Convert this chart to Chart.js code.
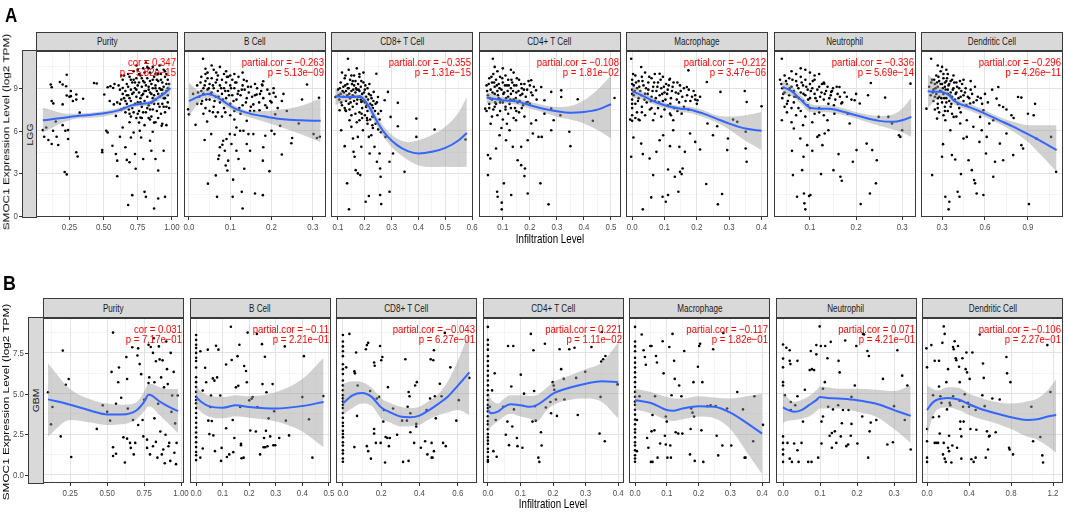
<!DOCTYPE html>
<html>
<head>
<meta charset="utf-8">
<script src="https://cdn.jsdelivr.net/npm/chart.js@4.4.1/dist/chart.umd.min.js"></script>
<style>
  body { margin: 0; background: #fff; }
  #fig { position: relative; width: 1065px; height: 512px; overflow: hidden; background: #fff;
         font-family: "Liberation Sans", Arial, sans-serif; }
  .box { position: absolute; }
  .strip { position: absolute; box-sizing: border-box; background: #d9d9d9; border: 1px solid #3a3a3a;
           color: #1a1a1a; font-size: 10.4px; display: flex; align-items: center; justify-content: center; white-space: nowrap; }
  .hs { display: inline-block; transform: scaleX(0.78); }
  .vtext { display: inline-block; transform: rotate(-90deg) scaleY(0.82); }
  .lbl { position: absolute; white-space: nowrap; line-height: 1; color: #000; }
</style>
</head>
<body>
<div id="fig"></div>
<script>
// ---- labels ----
const panelNames = ['Purity', 'B Cell', 'CD8+ T Cell', 'CD4+ T Cell', 'Macrophage', 'Neutrophil', 'Dendritic Cell'];
const lggStats = [
  ['cor = 0.347', 'p = 5.82e\u221215'],
  ['partial.cor = \u22120.263', 'p = 5.13e\u221209'],
  ['partial.cor = \u22120.355', 'p = 1.31e\u221215'],
  ['partial.cor = \u22120.108', 'p = 1.81e\u221202'],
  ['partial.cor = \u22120.212', 'p = 3.47e\u221206'],
  ['partial.cor = \u22120.336', 'p = 5.69e\u221214'],
  ['partial.cor = \u22120.296', 'p = 4.26e\u221211']
];
const gbmStats = [
  ['cor = 0.031', 'p = 7.17e\u221201'],
  ['partial.cor = \u22120.11', 'p = 2.21e\u221201'],
  ['partial.cor = \u22120.043', 'p = 6.27e\u221201'],
  ['partial.cor = 0.221', 'p = 1.11e\u221202'],
  ['partial.cor = \u22120.117', 'p = 1.82e\u221201'],
  ['partial.cor = 0.071', 'p = 4.21e\u221201'],
  ['partial.cor = \u22120.106', 'p = 2.27e\u221201']
];
const lggYTicks = ['0', '3', '6', '9'];
const gbmYTicks = ['0.0', '2.5', '5.0', '7.5'];
const lggXTicks = [
  ['0.25', '0.50', '0.75', '1.00'], ['0.0', '0.1', '0.2', '0.3'], ['0.1', '0.2', '0.3', '0.4', '0.5', '0.6'],
  ['0.1', '0.2', '0.3', '0.4', '0.5'], ['0.0', '0.1', '0.2', '0.3', '0.4'], ['0.1', '0.2', '0.3'], ['0.3', '0.6', '0.9']
];
const gbmXTicks = [
  ['0.25', '0.50', '0.75', '1.00'], ['0.0', '0.1', '0.2', '0.3', '0.4', '0.5'], ['0.0', '0.2', '0.4', '0.6'],
  ['0.0', '0.1', '0.2', '0.3', '0.4'], ['0.0', '0.1', '0.2', '0.3', '0.4'], ['0.0', '0.1', '0.2', '0.3'], ['0.0', '0.4', '0.8', '1.2']
];

// ---- LGG scatter points [infiltration, expression] ----
const lggPurityPts = [[0.055,6.05],[0.065,5.58],[0.113,9.26],[0.12,9.07],[0.12,8.1],[0.132,7.93],[0.096,5.35],[0.12,5.07],[0.156,5.58],[0.168,5.0],[0.18,9.44],[0.2,9.26],[0.23,9.95],[0.226,9.14],[0.2,7.86],[0.23,8.49],[0.25,8.4],[0.26,8.44],[0.275,8.1],[0.3,8.56],[0.3,8.2],[0.35,8.26],[0.43,9.37],[0.45,9.33],[0.22,6.0],[0.24,6.05],[0.24,5.42],[0.215,3.1],[0.23,2.93],[0.3,4.49],[0.31,4.19],[0.325,7.28],[0.15,6.65],[0.08,6.23],[0.26,8.8],[0.2,6.4],[0.13,6.0],
  [0.49,4.65],[0.49,4.49],[0.52,6.0],[0.53,5.88],[0.505,8.56],[0.53,9.07],[0.55,9.14],[0.57,9.02],[0.545,8.1],[0.575,7.86],[0.59,7.05],[0.565,4.95],[0.59,4.37],[0.6,3.9],[0.6,2.8],[0.62,5.58],[0.63,7.5],[0.64,9.02],[0.65,8.3],[0.64,6.23],[0.66,4.84],[0.67,3.95],[0.685,7.5],[0.69,3.79],[0.7,5.53],[0.71,1.47],[0.68,0.77],[0.73,4.37],[0.72,5.88],[0.735,3.33],[0.765,6.0],[0.77,6.93],[0.775,5.53],[0.79,4.02],[0.8,1.7],[0.81,1.35],[0.84,5.3],[0.85,4.6],[0.86,5.93],[0.87,0.53],[0.88,4.02],[0.9,1.23],[0.9,3.2],[0.925,6.35],[0.94,4.6],[0.95,1.35],[0.87,6.58],[0.84,6.8],[0.76,6.58],
  [0.62,8.9],[0.63,8.2],[0.64,9.6],[0.65,7.6],[0.66,8.8],[0.67,9.3],[0.67,7.9],[0.68,8.5],[0.69,9.8],[0.69,7.2],[0.7,8.9],[0.7,8.1],[0.71,9.4],[0.71,7.6],[0.72,8.7],[0.72,10.2],[0.73,9.0],[0.73,7.9],[0.74,8.4],[0.74,9.7],[0.75,8.0],[0.75,9.2],[0.76,8.7],[0.76,7.4],[0.77,9.9],[0.77,8.3],[0.78,9.1],[0.78,7.7],[0.79,8.6],[0.79,10.4],[0.8,9.4],[0.8,8.1],[0.81,8.8],[0.81,7.3],[0.82,9.7],[0.82,8.4],[0.83,9.1],[0.83,7.8],[0.84,10.1],[0.84,8.7],[0.85,9.3],[0.85,8.0],[0.86,9.0],[0.86,7.5],[0.87,9.8],[0.87,8.5],[0.88,9.2],[0.88,8.2],[0.89,10.3],[0.89,8.8],[0.9,9.5],[0.9,7.9],[0.91,9.0],[0.91,8.4],[0.92,10.0],[0.92,7.2],[0.93,9.4],[0.93,8.6],[0.94,9.1],[0.94,7.7],[0.95,9.8],[0.95,8.3],[0.96,9.3],[0.96,8.8],[0.97,9.6],[0.97,8.0],[0.74,10.6],[0.81,10.8],[0.7,7.0],[0.78,6.9],[0.85,7.0],[0.88,6.6],[0.66,8.1],[0.68,9.1],[0.72,9.6],[0.76,10.0],[0.79,9.5],[0.83,10.4],[0.86,8.3],[0.89,9.6],[0.91,10.6],[0.93,8.9],[0.95,10.2],[0.97,9.0],[0.63,9.9],[0.6,8.0],[0.58,9.3],
  [0.61,9.2],[0.62,7.9],[0.64,8.6],[0.65,9.9],[0.66,7.3],[0.67,8.5],[0.68,10.0],[0.69,8.3],[0.7,9.6],[0.71,8.6],[0.72,7.3],[0.73,9.4],[0.74,8.9],[0.75,10.3],[0.75,7.2],[0.76,9.4],[0.77,8.0],[0.78,9.7],[0.78,8.5],[0.79,7.3],[0.8,10.1],[0.8,8.8],[0.81,9.2],[0.82,7.6],[0.82,10.5],[0.83,8.9],[0.84,9.5],[0.84,7.5],[0.85,8.6],[0.86,9.6],[0.86,10.5],[0.87,7.9],[0.88,9.0],[0.88,10.0],[0.89,7.4],[0.9,8.6],[0.9,10.0],[0.91,7.7],[0.92,8.9],[0.92,9.6],[0.93,7.9],[0.94,10.3],[0.94,8.3],[0.95,7.3],[0.96,10.0],[0.96,7.7],[0.97,8.5],[0.98,9.3],[0.98,7.6],[0.69,6.6],[0.74,6.9],[0.8,6.4],[0.83,6.9],[0.9,6.9],[0.93,6.5],[0.96,6.4]];

const lggBCellPts = [[0.034,11.07],[0.04,10.37],[-0.002,7.51],[0,7.16],[0.016,6.42],[0.044,6.65],[0.054,5.77],[0.038,5.35],[0.046,2.28],[0.068,1.35],[0.106,1.35],[0.107,2.56],[0.065,2.86],[0.073,4.26],[0.071,4.02],[0.075,4.84],[0.083,5.3],[0.087,4.6],[0.091,5.42],[0.095,3.9],[0.089,3.56],[0.093,3.21],[0.081,5.02],[0.099,5.77],[0.103,5.07],[0.115,4.6],[0.12,4.02],[0.111,5.72],[0.124,6.0],[0.128,1.7],[0.13,0.53],[0.134,3.33],[0.14,5.07],[0.144,5.77],[0.148,4.6],[0.156,5.77],[0.16,1.58],[0.179,1.47],[0.179,3.9],[0.18,4.84],[0.185,5.65],[0.195,3.16],[0.2,6.0],[0.207,5.77],[0.221,6.35],[0.225,4.33],[0.25,5.49],[0.248,5.12],[0.266,6.51],[0.286,9.26],[0.302,5.77],[0.31,5.49],[0.315,8.33],[0.317,5.58],[0.274,8.21],[0.229,8.6],[0.205,8.67],[0.18,9.49],[0.177,9.26],[0.164,8.56],[0.156,7.86],[0.148,7.4],[0.189,7.63],[0.209,7.16],[0.237,7.4],[0.197,8.1],[0.171,7.44],[0.14,6.7],[0.115,6.23],[0.132,6.0],
  [0.02,9.2],[0.025,8.4],[0.03,9.8],[0.03,7.9],[0.035,9.0],[0.035,8.6],[0.04,9.5],[0.04,7.6],[0.045,10.1],[0.045,8.9],[0.05,9.3],[0.05,8.2],[0.055,9.7],[0.055,8.7],[0.06,10.3],[0.06,9.0],[0.06,7.7],[0.065,9.4],[0.065,8.4],[0.07,9.9],[0.07,8.8],[0.07,7.3],[0.075,9.2],[0.075,8.0],[0.08,9.6],[0.08,8.6],[0.085,10.0],[0.085,9.0],[0.085,7.6],[0.09,9.4],[0.09,8.3],[0.095,9.8],[0.095,8.8],[0.1,9.2],[0.1,7.9],[0.105,9.6],[0.105,8.5],[0.11,9.0],[0.11,7.4],[0.115,9.4],[0.115,8.2],[0.12,8.8],[0.12,9.8],[0.125,8.5],[0.13,9.2],[0.13,7.8],[0.135,8.9],[0.14,9.5],[0.14,8.3],[0.145,8.7],[0.15,9.1],[0.15,7.7],[0.16,8.5],[0.16,9.3],[0.17,8.0],[0.175,8.8],[0.18,8.3],[0.19,8.9],[0.2,8.0],[0.21,8.4],[0.03,8.8],[0.05,7.4],[0.065,7.0],[0.08,7.0],[0.1,7.1],[0.125,7.2],[0.045,9.7],[0.075,10.5],[0.055,10.6],[0.09,10.2],[0.11,10.0],[0.02,7.9],[0.01,8.6],[0.035,7.2],
  [0.022,8.7],[0.028,9.4],[0.032,8.1],[0.038,9.2],[0.042,8.2],[0.048,9.0],[0.052,8.6],[0.058,9.2],[0.062,8.1],[0.068,9.6],[0.072,8.4],[0.078,9.0],[0.082,8.2],[0.088,8.8],[0.092,9.8],[0.097,8.5],[0.102,9.0],[0.108,8.1],[0.112,9.4],[0.118,8.6],[0.122,7.6],[0.128,8.9],[0.133,9.6],[0.138,8.0],[0.143,9.1],[0.153,8.4],[0.158,7.4],[0.165,9.0],[0.172,8.6],[0.178,9.2],[0.185,7.8],[0.195,8.6],[0.205,9.0],[0.215,7.6],[0.225,8.1],[0.04,10.0],[0.066,10.1],[0.1,9.9],[0.13,10.1],[0.058,7.3],[0.088,7.3],[0.11,6.8]];

const lggCd8Pts = [[0.137,11.08],[0.141,0.47],[0.134,2.3],[0.125,4.92],[0.091,8.38],[0.106,7.45],[0.112,6.04],[0.156,5.46],[0.158,4.52],[0.162,4.17],[0.166,3.23],[0.174,3.0],[0.183,2.88],[0.174,5.57],[0.187,4.87],[0.193,6.04],[0.203,1.0],[0.215,1.41],[0.218,4.4],[0.224,5.69],[0.228,6.39],[0.23,6.98],[0.233,8.74],[0.243,10.02],[0.249,8.38],[0.255,4.4],[0.257,3.35],[0.259,2.76],[0.257,1.48],[0.261,0.84],[0.274,8.15],[0.277,5.57],[0.286,8.74],[0.292,1.71],[0.292,3.82],[0.296,6.98],[0.305,4.4],[0.323,6.32],[0.323,7.97],[0.348,3.11],[0.392,6.86],[0.392,5.57],[0.46,6.09],[0.575,5.39],[0.245,3.82],[0.236,4.87],[0.209,6.74],[0.215,5.57],[0.205,7.68],[0.143,6.74],[0.128,7.45],[0.15,6.28],[0.187,8.03],[0.18,6.74],
  [0.1,8.9],[0.105,8.2],[0.11,9.4],[0.11,8.6],[0.115,7.8],[0.12,9.1],[0.12,8.4],[0.125,9.7],[0.125,7.6],[0.13,8.8],[0.13,8.1],[0.135,9.3],[0.135,8.5],[0.14,9.0],[0.14,7.9],[0.145,9.6],[0.145,8.3],[0.15,8.8],[0.15,9.9],[0.155,8.5],[0.155,7.7],[0.16,9.2],[0.16,8.1],[0.165,9.5],[0.165,8.7],[0.17,8.9],[0.17,7.9],[0.175,9.3],[0.175,8.4],[0.18,9.8],[0.18,8.8],[0.185,8.2],[0.185,9.1],[0.19,8.6],[0.19,7.6],[0.195,9.4],[0.2,8.9],[0.2,8.0],[0.205,8.4],[0.21,9.0],[0.21,7.4],[0.215,8.6],[0.22,7.9],[0.225,8.3],[0.23,7.6],[0.24,7.9],[0.25,7.2],[0.26,7.4],[0.115,10.1],[0.14,10.3],[0.17,10.4],[0.195,10.1],[0.155,9.5],[0.13,7.4],[0.165,7.2],[0.2,7.1],[0.22,6.8],[0.24,6.5],[0.25,6.1],[0.26,5.9],[0.23,6.2],[0.21,6.5],[0.19,6.9],[0.18,7.3],[0.17,6.6],[0.15,7.1],
  [0.102,8.5],[0.107,9.0],[0.112,8.0],[0.117,8.8],[0.122,8.7],[0.127,9.2],[0.132,8.4],[0.137,9.0],[0.142,8.6],[0.147,8.0],[0.152,9.3],[0.157,8.9],[0.162,8.4],[0.167,9.0],[0.172,8.2],[0.177,8.9],[0.182,8.4],[0.187,9.5],[0.192,8.1],[0.197,8.7],[0.202,9.2],[0.207,7.8],[0.212,8.2],[0.217,9.3],[0.222,8.5],[0.227,7.8],[0.232,8.1],[0.238,7.4],[0.245,8.0],[0.255,6.8],[0.128,9.9],[0.16,9.9],[0.18,10.0],[0.143,7.5],[0.188,7.2],[0.208,6.9],[0.228,7.0]];

const lggCd4Pts = [[0.063,11.08],[0.035,7.56],[0.045,4.29],[0.045,2.88],[0.054,4.05],[0.079,1.71],[0.081,1.36],[0.096,0.94],[0.096,0.47],[0.104,2.3],[0.131,1.48],[0.155,3.93],[0.168,3.58],[0.18,2.81],[0.182,3.35],[0.192,1.59],[0.205,6.51],[0.211,5.81],[0.223,6.74],[0.232,5.57],[0.239,2.3],[0.244,5.57],[0.269,0.82],[0.279,6.04],[0.288,6.74],[0.316,8.38],[0.346,5.93],[0.35,4.92],[0.377,8.22],[0.433,6.7],[0.513,8.31],[0.125,6.04],[0.112,5.34],[0.088,5.69],[0.075,4.75],[0.137,4.87],[0.168,4.87],[0.192,5.34],[0.254,7.21],[0.279,7.56],[0.313,7.1],[0.254,8.15],[0.223,8.85],[0.205,9.56],[0.242,9.09],[0.279,8.74],[0.316,8.85],[0.192,8.03],[0.149,6.74],
  [0.04,9.2],[0.045,8.5],[0.05,9.7],[0.05,7.9],[0.055,8.9],[0.06,9.4],[0.06,8.2],[0.065,10.0],[0.065,7.5],[0.07,9.1],[0.07,8.6],[0.075,9.6],[0.075,7.9],[0.08,8.8],[0.08,10.2],[0.085,9.3],[0.085,8.3],[0.09,9.8],[0.09,7.4],[0.095,8.9],[0.1,9.4],[0.1,8.0],[0.105,8.7],[0.11,9.9],[0.11,7.7],[0.115,9.2],[0.12,8.4],[0.12,9.6],[0.125,7.9],[0.13,9.0],[0.13,8.6],[0.135,9.4],[0.14,8.2],[0.14,10.1],[0.145,7.6],[0.15,9.2],[0.15,8.7],[0.155,8.0],[0.16,9.6],[0.165,8.5],[0.17,9.0],[0.175,7.8],[0.18,9.3],[0.185,8.4],[0.19,8.9],[0.2,9.2],[0.2,7.9],[0.21,8.5],[0.04,7.4],[0.06,7.0],[0.08,7.1],[0.1,6.8],[0.12,7.2],[0.14,6.9],[0.16,7.3],[0.18,7.0],[0.07,10.5],[0.1,10.4],[0.13,10.3],[0.055,6.5],[0.095,6.2],[0.115,6.5],
  [0.042,8.8],[0.048,9.3],[0.052,8.3],[0.058,9.8],[0.062,8.7],[0.068,9.4],[0.072,8.0],[0.078,9.2],[0.082,8.5],[0.088,9.0],[0.092,8.2],[0.098,9.7],[0.102,8.6],[0.108,9.2],[0.112,8.3],[0.118,8.8],[0.122,9.2],[0.128,8.2],[0.132,9.6],[0.138,8.8],[0.142,9.2],[0.148,8.3],[0.152,9.7],[0.158,8.8],[0.162,8.1],[0.168,9.3],[0.172,8.6],[0.178,8.9],[0.188,8.0],[0.195,9.5],[0.205,8.7],[0.215,9.1],[0.225,8.2],[0.05,7.6],[0.07,7.7],[0.09,8.0],[0.11,7.5],[0.13,7.6],[0.15,7.4],[0.17,7.6]];

const lggMacroPts = [[-0.003,11.08],[0.028,10.49],[0.033,0.47],[0.059,1.31],[0.065,2.88],[0.094,1.36],[0.104,1.0],[0.111,1.48],[0.111,3.28],[0.132,2.76],[0.143,1.71],[0.148,3.11],[0.153,2.95],[0.156,3.35],[0.174,10.26],[0.229,2.25],[0.265,0.82],[0.278,1.55],[0.231,9.44],[0.273,8.74],[0.348,8.8],[0.354,8.03],[0.4,7.73],[0.296,5.46],[0.312,6.79],[0.325,6.63],[0.351,5.93],[0.351,4.75],[0.354,3.82],[0.294,4.64],[-0.006,6.79],[0.004,5.53],[-0.003,4.17],[0.028,5.1],[0.033,4.36],[0.054,4.05],[0.075,4.52],[0.085,5.34],[0.096,5.69],[0.117,4.92],[0.127,6.04],[0.146,4.87],[0.163,4.52],[0.179,5.81],[0.195,5.22],[0.21,4.68],[0.233,6.51],[0.25,5.69],[0.263,6.32],[0.202,8.15],[0.195,8.5],[0.169,9.09],[0.143,8.62],[0.117,9.67],[0.085,10.02],[0.153,7.21],[0.174,7.49],[0.117,7.21],[0.065,6.74],[0.023,6.74],[0.127,6.74],
  [0.0,9.6],[0.0,8.9],[0.0,8.2],[0.0,7.6],[0.005,9.2],[0.005,8.5],[0.01,9.9],[0.01,7.9],[0.015,9.0],[0.02,9.5],[0.02,8.3],[0.025,8.8],[0.03,9.8],[0.03,7.7],[0.035,9.2],[0.04,8.6],[0.04,10.1],[0.045,8.0],[0.05,9.4],[0.05,8.9],[0.055,7.5],[0.06,9.7],[0.06,8.4],[0.065,9.1],[0.07,8.1],[0.07,10.0],[0.075,8.8],[0.08,9.4],[0.08,7.6],[0.085,8.5],[0.09,9.0],[0.095,9.8],[0.095,8.1],[0.1,8.7],[0.105,9.3],[0.11,7.8],[0.11,8.9],[0.115,9.6],[0.12,8.3],[0.125,9.1],[0.13,7.6],[0.135,8.7],[0.14,9.4],[0.145,8.0],[0.15,8.8],[0.16,9.0],[0.16,7.7],[0.17,8.5],[0.18,8.1],[0.19,8.8],[0.2,7.9],[0.21,8.4],[0.015,7.3],[0.04,7.1],[0.07,7.2],[0.09,7.0],[0.12,7.1],[0.0,7.1],[0.02,6.8],
  [0.0,9.3],[0.0,8.6],[0.0,7.9],[0.003,10.0],[0.008,8.8],[0.012,9.4],[0.018,8.1],[0.022,9.1],[0.028,8.5],[0.032,9.5],[0.038,8.2],[0.043,9.0],[0.048,8.6],[0.053,9.8],[0.058,8.1],[0.063,8.8],[0.068,9.4],[0.073,8.3],[0.078,9.1],[0.083,8.0],[0.088,9.6],[0.093,8.6],[0.098,9.1],[0.103,8.2],[0.108,8.6],[0.113,9.2],[0.118,7.9],[0.123,8.8],[0.128,9.4],[0.138,8.2],[0.148,9.2],[0.155,8.4],[0.165,8.1],[0.175,8.9],[0.185,8.4],[0.195,8.2],[0.0,6.7],[0.01,6.9],[0.03,7.3],[0.06,7.6],[0.1,7.5],[0.14,7.4]];

const lggNeutroPts = [[0.039,11.08],[0.039,6.74],[0.063,2.88],[0.072,1.36],[0.087,1.59],[0.088,0.89],[0.09,0.47],[0.098,1.41],[0.101,1.48],[0.083,3.23],[0.086,4.17],[0.061,4.59],[0.065,6.16],[0.079,5.46],[0.094,4.99],[0.105,4.59],[0.116,5.57],[0.12,5.69],[0.124,2.95],[0.127,4.99],[0.132,5.81],[0.14,6.04],[0.151,3.23],[0.162,4.36],[0.166,2.76],[0.169,2.48],[0.186,6.51],[0.193,3.82],[0.201,4.64],[0.21,0.84],[0.223,5.1],[0.23,1.59],[0.235,4.64],[0.245,3.93],[0.243,2.3],[0.249,6.98],[0.263,8.34],[0.27,6.98],[0.278,6.51],[0.293,5.69],[0.296,5.57],[0.3,6.04],[0.318,9.32],[0.232,9.37],[0.226,8.5],[0.208,7.92],[0.197,8.15],[0.182,7.21],[0.168,7.92],[0.153,7.21],[0.138,6.74],[0.164,9.09],[0.146,8.74],[0.131,9.32],
  [0.035,9.6],[0.04,9.0],[0.04,8.3],[0.045,9.9],[0.045,8.7],[0.05,9.3],[0.05,7.9],[0.055,9.7],[0.055,8.5],[0.06,9.1],[0.06,10.2],[0.065,8.8],[0.065,8.0],[0.07,9.5],[0.07,8.4],[0.075,9.0],[0.075,7.6],[0.08,9.8],[0.08,8.7],[0.085,9.2],[0.085,8.1],[0.09,9.6],[0.09,8.5],[0.095,8.9],[0.095,7.8],[0.1,9.3],[0.1,8.3],[0.105,9.0],[0.11,8.6],[0.11,9.6],[0.115,8.1],[0.12,9.1],[0.12,7.6],[0.125,8.7],[0.13,9.4],[0.13,8.2],[0.135,8.8],[0.14,7.9],[0.145,8.5],[0.15,9.0],[0.155,8.2],[0.16,8.6],[0.17,8.0],[0.18,8.4],[0.05,7.3],[0.07,7.1],[0.09,7.0],[0.11,7.2],[0.13,7.1],[0.06,6.6],[0.085,6.4],[0.105,6.6],[0.08,10.4],[0.1,10.1],[0.12,10.0],[0.045,7.7],
  [0.038,9.3],[0.042,8.6],[0.048,9.5],[0.052,8.1],[0.056,9.0],[0.062,9.6],[0.066,8.4],[0.072,9.2],[0.076,8.3],[0.082,9.4],[0.086,8.6],[0.092,9.1],[0.096,8.2],[0.102,8.8],[0.106,9.5],[0.112,8.3],[0.116,8.9],[0.122,8.4],[0.126,9.3],[0.132,8.6],[0.138,9.1],[0.142,8.3],[0.148,8.8],[0.152,7.8],[0.158,9.1],[0.165,8.4],[0.175,8.7],[0.19,8.2],[0.2,8.6],[0.07,10.0],[0.09,10.3],[0.11,9.9],[0.06,7.6],[0.08,7.4],[0.1,7.6],[0.12,7.3]];

const lggDendPts = [[0.224,11.08],[0.191,7.56],[0.231,2.88],[0.3,4.17],[0.307,5.06],[0.323,1.36],[0.346,0.47],[0.351,1.0],[0.369,4.29],[0.392,3.98],[0.409,1.71],[0.422,1.36],[0.432,2.95],[0.45,5.46],[0.473,5.57],[0.485,3.93],[0.508,3.23],[0.524,2.53],[0.531,2.3],[0.542,1.59],[0.561,5.22],[0.577,6.04],[0.589,1.48],[0.607,4.4],[0.63,6.51],[0.658,2.76],[0.67,3.82],[0.704,5.1],[0.727,3.93],[0.75,5.81],[0.785,7.1],[0.797,4.29],[0.831,8.38],[0.854,8.34],[0.854,4.99],[0.866,4.75],[0.907,0.84],[0.94,7.1],[0.958,5.46],[1.062,5.57],[1.097,3.11],[0.658,6.74],[0.612,5.57],[0.566,6.98],[0.519,6.28],[0.496,7.92],[0.542,8.15],[0.589,7.45],[0.681,8.27],[0.693,9.09],[0.727,7.68],[0.473,6.74],[0.427,6.51],[0.358,6.04],[0.323,6.74],[0.265,6.86],[0.381,6.98],
  [0.21,9.1],[0.22,8.5],[0.23,9.6],[0.24,8.9],[0.24,8.1],[0.25,9.3],[0.26,9.9],[0.26,8.6],[0.27,9.1],[0.27,7.9],[0.28,9.5],[0.28,8.4],[0.29,10.2],[0.29,8.8],[0.3,9.3],[0.3,8.0],[0.31,9.7],[0.31,8.6],[0.32,9.1],[0.32,7.7],[0.33,9.5],[0.33,8.3],[0.34,8.9],[0.34,10.0],[0.35,9.3],[0.35,8.1],[0.36,8.7],[0.37,9.6],[0.37,8.4],[0.38,9.0],[0.39,8.2],[0.4,9.4],[0.4,8.7],[0.41,7.9],[0.42,9.0],[0.43,8.4],[0.44,9.3],[0.45,8.1],[0.46,8.7],[0.47,7.8],[0.48,8.4],[0.5,8.9],[0.52,8.0],[0.55,8.4],[0.58,7.9],[0.25,7.5],[0.28,7.3],[0.31,7.1],[0.34,7.4],[0.37,7.2],[0.4,7.0],[0.43,7.3],[0.3,10.5],[0.27,10.6],[0.33,10.3],[0.38,9.9],[0.45,9.6],[0.5,9.5],[0.6,8.6],[0.65,8.9],[0.7,7.8],[0.75,7.5],[0.9,7.2],[0.95,7.9],[0.8,6.9],
  [0.225,9.4],[0.235,8.7],[0.245,9.6],[0.25,8.4],[0.255,9.0],[0.265,9.4],[0.27,8.3],[0.275,9.8],[0.285,8.8],[0.29,9.3],[0.295,8.3],[0.305,9.0],[0.31,10.0],[0.315,8.3],[0.32,9.4],[0.325,8.9],[0.33,8.0],[0.335,9.7],[0.34,8.6],[0.345,9.2],[0.355,8.5],[0.36,9.5],[0.365,7.9],[0.375,8.9],[0.385,9.4],[0.395,8.6],[0.405,9.1],[0.415,8.3],[0.425,9.5],[0.435,8.8],[0.45,8.5],[0.465,9.0],[0.49,8.3],[0.51,8.6],[0.53,9.1],[0.57,8.3],[0.62,8.0],[0.27,7.6],[0.32,7.4],[0.36,7.7],[0.42,7.6]];

// ---- GBM scatter points ----
const gbmPurityPts = [[0.1,5.08],[0.12,3.1],[0.13,4.17],[0.2,7.64],[0.186,2.36],[0.22,5.54],[0.24,5.89],[0.257,1.09],[0.43,2.82],[0.47,4.27],[0.5,3.87],[0.52,3.33],[0.53,6.33],[0.54,8.75],[0.54,1.69],[0.54,1.15],[0.56,1.29],[0.56,4.37],[0.575,5.69],[0.58,6.6],[0.595,4.74],[0.61,2.3],[0.62,0.75],[0.63,7.24],[0.635,5.89],[0.64,4.07],[0.635,2.22],[0.655,1.96],[0.66,1.65],[0.67,7.85],[0.675,3.37],[0.68,1.25],[0.69,1.96],[0.705,7.34],[0.71,7.78],[0.71,3.06],[0.72,6.81],[0.73,6.19],[0.74,3.37],[0.745,2.36],[0.75,4.62],[0.77,2.16],[0.77,1.65],[0.78,8.0],[0.78,5.64],[0.785,5.99],[0.79,1.25],[0.795,7.86],[0.81,1.75],[0.81,7.5],[0.815,8.4],[0.82,3.47],[0.82,5.69],[0.83,6.99],[0.83,2.02],[0.84,1.05],[0.845,4.37],[0.85,7.9],[0.855,7.1],[0.86,2.66],[0.865,5.99],[0.87,1.25],[0.875,7.04],[0.88,1.55],[0.885,5.38],[0.89,0.71],[0.895,2.46],[0.9,8.2],[0.905,6.5],[0.91,5.58],[0.915,1.75],[0.92,1.96],[0.927,0.85],[0.93,7.5],[0.935,3.87],[0.94,4.88],[0.95,6.33],[0.955,1.35],[0.96,3.16],[0.966,0.65],[0.97,1.96],[0.977,4.88]];

const gbmBCellPts = [[0,8.6],[0,8.3],[0,8.0],[0,7.8],[0,7.5],[0,7.2],[0,7.0],[0,6.6],[0,6.0],[0,5.7],[0,5.4],[0,5.1],[0,4.8],[0,4.6],[0,4.4],[0,4.1],[0,3.8],[0,3.5],[0,3.2],[0,2.9],[0,2.6],[0,2.3],[0,2.0],[0,1.7],[0,1.4],[0,1.2],[0,0.9],
  [0.016,7.6],[0.025,5.18],[0.025,1.61],[0.016,1.05],[0.034,6.59],[0.038,5.69],[0.044,7.7],[0.046,3.33],[0.05,2.5],[0.054,4.17],[0.056,4.88],[0.059,3.31],[0.063,5.93],[0.065,2.42],[0.069,5.79],[0.071,1.45],[0.075,7.94],[0.079,5.99],[0.084,7.7],[0.091,4.88],[0.094,0.85],[0.096,1.65],[0.113,6.79],[0.113,2.86],[0.116,1.09],[0.125,1.25],[0.131,9.11],[0.134,7.06],[0.138,3.37],[0.14,1.39],[0.144,2.26],[0.15,5.38],[0.156,7.3],[0.159,5.48],[0.163,8.0],[0.166,4.17],[0.169,1.81],[0.169,1.9],[0.171,1.01],[0.179,1.05],[0.181,6.69],[0.188,6.39],[0.191,5.69],[0.194,8.75],[0.2,4.58],[0.204,2.72],[0.209,4.68],[0.213,4.78],[0.225,2.66],[0.229,8.67],[0.231,4.17],[0.241,1.25],[0.248,8.04],[0.25,5.58],[0.254,1.69],[0.256,2.26],[0.259,7.26],[0.26,1.69],[0.263,2.7],[0.265,5.08],[0.269,1.75],[0.273,3.47],[0.279,2.36],[0.288,5.58],[0.291,1.81],[0.294,3.91],[0.298,1.81],[0.313,2.26],[0.334,7.9],[0.338,3.33],[0.35,2.42],[0.4,4.78],[0.406,7.3],[0.425,3.41],[0.438,1.05],[0.479,4.84]];

const gbmCd8Pts = [[0,8.6],[0,8.2],[0,7.9],[0,7.6],[0,7.3],[0,6.8],[0,6.5],[0,6.2],[0,5.8],[0,5.5],[0,5.2],[0,4.9],[0,4.7],[0,4.5],[0,4.3],[0,4.1],[0,3.8],[0,3.5],[0,3.2],[0,3.0],[0,2.7],[0,2.5],[0,2.3],[0,2.0],[0,1.8],[0,1.5],[0,1.3],[0,1.0],[0,0.8],
  [0.034,8.67],[0.017,6.61],[0.06,6.36],[0.063,6.24],[0.069,7.52],[0.077,5.49],[0.074,3.62],[0.06,1.7],[0.12,7.72],[0.125,7.98],[0.132,8.12],[0.125,1.76],[0.132,1.45],[0.146,0.99],[0.142,5.15],[0.163,6.91],[0.166,6.71],[0.163,2.81],[0.163,2.53],[0.172,1.96],[0.177,4.69],[0.189,4.79],[0.194,7.92],[0.197,1.96],[0.2,7.05],[0.206,7.25],[0.211,3.27],[0.214,3.98],[0.22,0.75],[0.223,2.32],[0.232,2.26],[0.235,5.39],[0.24,1.76],[0.245,2.26],[0.262,4.08],[0.283,2.46],[0.309,3.33],[0.314,0.79],[0.326,7.11],[0.334,3.33],[0.338,4.18],[0.343,0.85],[0.343,5.09],[0.348,4.83],[0.352,2.61],[0.352,3.78],[0.372,1.96],[0.377,5.49],[0.383,3.13],[0.383,2.97],[0.386,5.7],[0.407,1.66],[0.429,2.06],[0.437,3.98],[0.441,1.25],[0.455,4.69],[0.458,7.11],[0.463,1.96],[0.463,1.05],[0.468,1.05],[0.472,7.05],[0.475,7.66],[0.475,1.45],[0.48,4.83],[0.485,3.47],[0.506,5.6],[0.515,4.83],[0.523,1.96],[0.532,8.73],[0.537,1.76],[0.561,6.61],[0.592,3.33],[0.605,4.59],[0.66,5.96]];

const gbmCd4Pts = [[0,9.1],[0,8.3],[0,8.0],[0,7.7],[0,7.3],[0,7.0],[0,6.7],[0,6.4],[0,6.1],[0,5.8],[0,5.5],[0,5.2],[0,4.9],[0,4.6],[0,4.3],[0,4.1],[0,3.9],[0,3.6],[0,3.3],[0,3.1],[0,2.8],[0,2.5],[0,2.3],[0,2.1],[0,1.9],[0,1.6],[0,1.4],[0,1.1],[0,0.9],[0,0.8],
  [0.006,4.18],[0.013,5.19],[0.017,1.45],[0.021,6.24],[0.024,3.37],[0.027,1.11],[0.047,4.18],[0.055,2.46],[0.06,3.27],[0.062,7.92],[0.065,1.82],[0.072,5.43],[0.075,2.97],[0.078,7.92],[0.08,4.02],[0.089,2.26],[0.091,1.76],[0.101,6.16],[0.106,1.66],[0.111,4.99],[0.132,8.67],[0.137,3.27],[0.14,7.66],[0.142,5.15],[0.147,3.33],[0.144,4.22],[0.155,1.05],[0.158,0.79],[0.163,2.61],[0.165,1.8],[0.175,8.06],[0.178,4.14],[0.192,4.48],[0.194,3.78],[0.199,5.7],[0.202,5.49],[0.204,5.23],[0.209,4.63],[0.212,3.62],[0.22,7.72],[0.225,6.5],[0.233,5.9],[0.235,4.63],[0.25,7.72],[0.266,7.82],[0.271,5.96],[0.276,3.68],[0.299,6.34],[0.318,7.86],[0.343,2.53],[0.346,4.79],[0.348,6.97],[0.35,8.79],[0.354,7.11],[0.359,2.06],[0.361,7.31],[0.398,5.56]];

const gbmMacroPts = [[0,9.1],[0,8.2],[0,7.9],[0,7.6],[0,7.2],[0,6.9],[0,6.6],[0,6.3],[0,6.0],[0,5.7],[0,5.4],[0,5.1],[0,4.8],[0,4.5],[0,4.3],[0,4.0],[0,3.7],[0,3.4],[0,3.1],[0,2.8],[0,2.6],[0,2.3],[0,2.0],[0,1.8],[0,1.5],[0,1.2],[0,1.0],[0,0.8],
  [0.006,3.37],[0.006,1.45],[0.014,4.83],[0.021,8.63],[0.027,7.66],[0.031,7.25],[0.034,6.77],[0.038,2.26],[0.042,1.66],[0.048,7.92],[0.05,0.79],[0.055,0.79],[0.052,7.92],[0.052,2.67],[0.055,3.68],[0.061,2.73],[0.066,7.31],[0.069,6.91],[0.063,4.83],[0.071,1.05],[0.079,1.92],[0.087,8.22],[0.09,6.24],[0.094,2.4],[0.097,1.86],[0.097,3.58],[0.1,3.27],[0.102,1.05],[0.108,7.86],[0.111,1.8],[0.113,1.05],[0.115,4.89],[0.118,8.67],[0.123,7.01],[0.125,5.9],[0.128,2.61],[0.136,2.53],[0.139,5.49],[0.146,4.83],[0.149,2.53],[0.155,7.62],[0.173,1.25],[0.175,2.81],[0.177,4.08],[0.181,3.82],[0.184,5.7],[0.186,3.58],[0.188,0.85],[0.198,6.65],[0.202,7.92],[0.205,8.06],[0.209,2.73],[0.212,5.7],[0.215,0.79],[0.228,4.22],[0.238,4.28],[0.246,7.72],[0.254,4.22],[0.257,2.4],[0.262,1.19],[0.275,1.8],[0.278,8.73],[0.29,4.08],[0.303,1.8],[0.322,5.09],[0.34,4.02],[0.345,1.05],[0.348,1.05],[0.372,2.06],[0.376,4.83],[0.403,3.07]];

const gbmNeutroPts = [[0,8.02],[0,7.15],[0,6.61],[0,5.7],[0,5.49],[0,2.36],[0,1.96],[0,1.25],[0,0.79],[0,1.55],[0.005,4.89],[0.009,7.82],[0.012,1.96],[0.018,7.66],[0.018,7.01],[0.02,6.81],[0.021,4.48],[0.021,3.98],[0.018,0.99],[0.024,0.79],[0.03,1.92],[0.033,4.28],[0.039,7.01],[0.039,1.51],[0.039,4.83],[0.042,0.79],[0.05,1.96],[0.054,3.27],[0.059,5.23],[0.068,0.79],[0.072,6.44],[0.075,7.62],[0.077,0.79],[0.078,6.5],[0.084,6.44],[0.09,7.98],[0.09,7.41],[0.095,1.05],[0.099,9.13],[0.102,7.92],[0.104,3.27],[0.104,1.92],[0.108,5.29],[0.108,3.58],[0.113,5.7],[0.114,7.92],[0.12,7.17],[0.122,4.18],[0.126,2.4],[0.129,8.18],[0.132,1.66],[0.132,2.57],[0.135,4.02],[0.14,2.67],[0.144,1.96],[0.149,4.28],[0.15,7.01],[0.153,6.3],[0.156,2.36],[0.159,3.17],[0.162,3.98],[0.168,8.26],[0.171,1.76],[0.176,1.86],[0.177,3.98],[0.183,2.4],[0.185,3.13],[0.194,5.49],[0.198,7.92],[0.201,1.92],[0.216,8.67],[0.219,8.63],[0.228,7.62],[0.23,1.05],[0.232,7.31],[0.234,2.67],[0.237,3.21],[0.252,3.37],[0.27,5.9],[0.282,1.86],[0.297,2.0],[0.3,4.22],[0.309,7.66],[0.322,6.1],[0.329,3.37],[0.336,5.49],[0.345,1.55],[0.214,3.58],[0.185,4.79]];

const gbmDendPts = [[0,6.61],[0,2.81],[0,2.06],[0,1.05],[0,0.79],[-0.006,7.78],[0.041,7.98],[0.057,3.54],[0.073,7.01],[0.057,4.89],[0.073,1.96],[0.089,1.96],[0.105,1.96],[0.114,7.01],[0.114,5.43],[0.121,2.53],[0.127,4.83],[0.137,4.42],[0.146,8.12],[0.159,9.13],[0.152,1.25],[0.159,1.96],[0.168,8.67],[0.168,0.99],[0.178,0.79],[0.184,5.7],[0.19,4.02],[0.2,6.5],[0.2,1.66],[0.21,2.4],[0.21,1.45],[0.216,4.42],[0.222,4.28],[0.232,0.75],[0.241,1.8],[0.248,7.86],[0.254,7.72],[0.263,8.22],[0.273,7.17],[0.279,7.05],[0.286,1.66],[0.295,7.92],[0.305,6.65],[0.311,4.55],[0.317,3.27],[0.317,2.81],[0.327,2.36],[0.327,0.99],[0.337,7.17],[0.343,4.18],[0.349,3.27],[0.359,4.95],[0.368,6.5],[0.375,7.52],[0.381,6.3],[0.39,4.42],[0.4,4.18],[0.406,5.9],[0.413,2.81],[0.422,0.95],[0.432,7.52],[0.444,0.79],[0.463,1.05],[0.47,2.77],[0.502,8.63],[0.527,4.89],[0.533,6.85],[0.54,5.96],[0.549,4.22],[0.559,1.05],[0.571,2.67],[0.581,1.55],[0.59,2.36],[0.597,2.4],[0.622,4.69],[0.654,2.61],[0.692,4.63],[0.756,7.25],[0.762,6.24],[0.781,1.66],[0.787,1.55],[0.794,5.7],[0.819,1.25],[0.994,4.18],[1.01,2.06],[1.079,2.32],[1.098,1.19],[1.105,0.75],[1.146,7.98],[1.175,5.09],[0.248,4.83],[0.114,3.58],[0.463,3.98],[0.311,5.7]];

// ---- loess fits: x, fitted y, lower and upper band ----
const lggPurityFit = { x: [0.055,0.25,0.505,0.61,0.71,0.78,0.84,0.9,0.95,0.99],
  y: [6.74,6.98,7.23,7.44,7.81,7.9,7.98,8.33,8.67,9.02],
  lo: [5.88,6.74,7.0,7.25,7.63,7.75,7.79,8.1,8.38,8.56], hi: [7.63,7.2,7.4,7.6,7.93,8.03,8.14,8.55,8.95,9.49] };
const lggBCellFit = { x: [0,0.026,0.046,0.063,0.083,0.107,0.148,0.189,0.229,0.27,0.319],
  y: [8.09,8.44,8.6,8.44,8.09,7.63,7.21,6.98,6.81,6.74,6.7],
  lo: [7.05,8.05,8.33,8.2,7.86,7.4,6.93,6.58,6.19,5.77,5.19], hi: [9.37,8.84,8.9,8.7,8.33,7.86,7.4,7.4,7.51,7.74,8.3] };
const lggCd8Fit = { x: [0.09,0.12,0.15,0.18,0.2,0.22,0.25,0.28,0.32,0.36,0.4,0.45,0.5,0.55,0.58],
  y: [8.43,8.38,8.38,8.43,8.15,7.56,6.51,5.69,4.99,4.57,4.4,4.52,4.8,5.34,5.85],
  lo: [7.8,8.05,8.2,8.3,7.85,7.2,6.16,5.3,4.5,3.95,3.58,3.45,3.47,3.45,3.47], hi: [8.97,8.7,8.6,8.55,8.43,7.9,6.86,6.1,5.45,5.2,5.34,5.7,6.28,7.3,8.38] };
const lggCd4Fit = { x: [0.04,0.1,0.15,0.2,0.25,0.3,0.35,0.4,0.45,0.5],
  y: [8.34,8.15,8.08,7.8,7.56,7.38,7.28,7.33,7.49,7.87],
  lo: [7.92,7.92,7.85,7.56,7.3,6.98,6.8,6.51,6.05,5.46], hi: [8.74,8.38,8.3,8.03,7.82,7.68,7.75,8.15,8.9,9.9] };
const lggMacroFit = { x: [0,0.03,0.06,0.1,0.15,0.18,0.22,0.26,0.3,0.35,0.4],
  y: [8.78,8.5,8.15,7.8,7.56,7.49,7.21,6.86,6.51,6.16,6.0],
  lo: [8.34,8.2,7.9,7.6,7.35,7.25,6.95,6.6,6.1,5.3,4.64], hi: [9.2,8.8,8.4,8.0,7.75,7.7,7.45,7.1,7.0,7.1,7.33] };
const lggNeutroFit = { x: [0.04,0.06,0.08,0.1,0.12,0.14,0.16,0.2,0.25,0.28,0.3,0.32],
  y: [9.09,8.8,8.2,7.63,7.56,7.56,7.45,7.1,6.7,6.63,6.74,6.98],
  lo: [8.57,8.45,7.9,7.33,7.3,7.3,7.2,6.86,6.35,6.1,5.9,5.57], hi: [9.55,9.15,8.5,7.92,7.8,7.8,7.7,7.33,7.05,7.15,7.55,8.34] };
const lggDendFit = { x: [0.2,0.3,0.35,0.38,0.42,0.5,0.6,0.7,0.8,0.9,1.0,1.1],
  y: [8.78,8.74,8.5,8.15,7.92,7.63,7.21,6.74,6.28,5.76,5.22,4.64],
  lo: [7.6,8.45,8.25,7.9,7.7,7.4,6.97,6.5,5.93,5.22,4.2,3.11], hi: [10.0,9.0,8.75,8.4,8.15,7.87,7.45,6.98,6.63,6.4,6.4,6.4] };

const gbmPurityFit = { x: [0.1,0.25,0.4,0.5,0.6,0.7,0.75,0.78,0.8,0.85,0.9,0.98],
  y: [4.64,4.31,3.91,3.71,3.71,3.97,4.48,4.92,4.88,4.54,4.27,3.91],
  lo: [2.36,3.37,3.2,3.06,3.1,3.43,3.9,4.2,4.17,3.7,3.27,2.56], hi: [6.85,5.28,4.6,4.38,4.3,4.48,5.1,5.58,5.58,5.4,5.28,5.28] };
const gbmBCellFit = { x: [0,0.02,0.05,0.1,0.15,0.2,0.3,0.4,0.48],
  y: [4.78,4.48,4.21,4.13,4.27,4.17,4.07,4.23,4.48],
  lo: [4.17,3.85,3.57,3.47,3.6,3.5,3.27,2.66,1.69], hi: [5.48,5.1,4.88,4.78,4.9,4.83,5.08,5.89,7.2] };
const gbmCd8Fit = { x: [0,0.05,0.1,0.15,0.2,0.25,0.3,0.35,0.4,0.45,0.5,0.55,0.6,0.66],
  y: [4.38,4.89,5.03,4.79,4.14,3.82,3.58,3.54,3.64,3.98,4.38,4.83,5.49,6.3],
  lo: [3.68,4.1,4.38,4.25,3.47,3.2,2.97,2.98,3.07,3.4,3.68,3.85,3.98,3.68], hi: [5.6,5.75,5.7,5.35,4.69,4.4,4.18,4.1,4.18,4.55,4.99,5.8,7.01,8.83] };
const gbmCd4Fit = { x: [0,0.01,0.03,0.05,0.07,0.1,0.13,0.15,0.18,0.2,0.25,0.3,0.35,0.4],
  y: [3.98,3.78,3.88,4.18,4.34,4.28,4.18,4.28,4.69,4.99,5.35,5.6,5.76,5.7],
  lo: [2.67,2.95,3.27,3.6,3.75,3.58,3.45,3.27,3.95,4.28,4.6,4.69,4.48,3.47], hi: [4.99,4.65,4.38,4.7,4.9,4.89,4.85,4.89,5.35,5.7,6.1,6.5,6.91,8.12] };
const gbmMacroFit = { x: [0,0.05,0.1,0.12,0.15,0.2,0.25,0.3,0.35,0.4],
  y: [4.59,4.42,3.98,3.94,4.08,4.22,4.18,3.82,3.21,2.53],
  lo: [4.02,3.78,3.37,3.3,3.41,3.58,3.47,2.81,1.45,0.04], hi: [5.29,5.09,4.79,4.7,4.69,4.83,4.75,4.69,4.83,4.99] };
const gbmNeutroFit = { x: [0,0.01,0.03,0.05,0.07,0.09,0.1,0.12,0.15,0.2,0.25,0.3,0.345],
  y: [4.14,4.02,3.88,3.98,4.28,4.59,4.79,4.73,4.69,4.59,4.38,3.98,3.62],
  lo: [3.17,3.3,3.37,3.45,3.58,3.9,4.08,4.08,4.08,3.88,3.58,2.81,1.96], hi: [5.09,4.8,4.48,4.6,4.83,5.2,5.43,5.38,5.29,5.29,5.23,5.15,5.49] };
const gbmDendFit = { x: [0,0.05,0.1,0.2,0.3,0.4,0.5,0.6,0.8,0.95,1.05,1.15,1.23],
  y: [3.98,4.42,4.63,4.73,4.63,4.34,4.08,3.88,3.54,3.37,3.41,3.58,3.68],
  lo: [2.36,3.5,4.02,4.14,3.98,3.68,3.45,3.27,2.81,2.35,2.16,1.75,1.35], hi: [5.49,5.3,5.19,5.39,5.35,4.99,4.75,4.55,4.38,4.5,4.69,5.2,5.9] };

// ---- layout ----
const FONT = '"Liberation Sans", Arial, sans-serif';
const rows = [
  { tag: 'LGG', top: 50, h: 167, left0: 36, pitch: 147.5, w: 142, headTop: 32, headH: 19, stripX: 22, titleY: 132,
    yMin: -0.07, yMax: 11.6, yTicks: lggYTicks, xTicks: lggXTicks, stats: lggStats,
    xRanges: [[0.005,1.045],[-0.012,0.332],[0.074,0.603],[0.012,0.537],[-0.019,0.42],[0.022,0.33],[0.153,1.145]],
    pts: [lggPurityPts, lggBCellPts, lggCd8Pts, lggCd4Pts, lggMacroPts, lggNeutroPts, lggDendPts],
    fits: [lggPurityFit, lggBCellFit, lggCd8Fit, lggCd4Fit, lggMacroFit, lggNeutroFit, lggDendFit] },
  { tag: 'GBM', top: 317, h: 166, left0: 43, pitch: 146.5, w: 141, headTop: 298, headH: 20, stripX: 28, titleY: 402,
    yMin: -0.51, yMax: 9.63, yTicks: gbmYTicks, xTicks: gbmXTicks, stats: gbmStats,
    xRanges: [[0.066,1.02],[-0.023,0.508],[-0.036,0.70],[-0.015,0.418],[-0.019,0.425],[-0.019,0.362],[-0.048,1.295]],
    pts: [gbmPurityPts, gbmBCellPts, gbmCd8Pts, gbmCd4Pts, gbmMacroPts, gbmNeutroPts, gbmDendPts],
    fits: [gbmPurityFit, gbmBCellFit, gbmCd8Fit, gbmCd4Fit, gbmMacroFit, gbmNeutroFit, gbmDendFit] }
];

const fig = document.getElementById('fig');

function addDiv(cls, style, html) {
  const d = document.createElement('div');
  d.className = cls;
  Object.assign(d.style, style);
  if (html !== undefined) d.innerHTML = html;
  fig.appendChild(d);
  return d;
}

// majors from the tick labels, minors half way between
function tickList(labels, min, max) {
  const vals = labels.map(Number);
  const half = (vals[1] - vals[0]) / 2;
  const out = [];
  for (let k = -3; k <= 2 * labels.length + 2; k++) {
    const v = vals[0] + k * half;
    if (v < min - 1e-9 || v > max + 1e-9) continue;
    if (k % 2 === 0) {
      const j = k / 2;
      if (j < 0 || j >= labels.length) continue;
      out.push({ value: vals[j], lab: labels[j], mj: true });
    } else {
      out.push({ value: +v.toFixed(6), lab: '', mj: false });
    }
  }
  return out;
}

// the source figure is a little condensed horizontally, so text is squeezed
function squeezed(ctx, text, x, y, sx) {
  ctx.save();
  ctx.translate(x, y);
  ctx.scale(sx, 1);
  ctx.fillText(text, 0, 0);
  ctx.restore();
}

const panelDecor = {
  id: 'panelDecor',
  afterDatasetsDraw(chart, args, opts) {
    const { ctx, chartArea: a } = chart;
    ctx.save();
    ctx.strokeStyle = '#3a3a3a';
    ctx.lineWidth = 1;
    ctx.strokeRect(Math.round(a.left) + 0.5, Math.round(a.top) + 0.5, Math.round(a.width) - 1, Math.round(a.height) - 1);

    // tick labels
    ctx.fillStyle = '#4d4d4d';
    ctx.font = '9.2px ' + FONT;
    ctx.textBaseline = 'alphabetic';
    ctx.textAlign = 'center';
    opts.xTicks.filter(t => t.mj).forEach(t => {
      squeezed(ctx, t.lab, chart.scales.x.getPixelForValue(t.value), a.bottom + 13, 0.86);
    });
    if (opts.tickX) {
      ctx.strokeStyle = '#333';
      ctx.textAlign = 'right';
      ctx.textBaseline = 'middle';
      opts.yTicks.filter(t => t.mj).forEach(t => {
        const py = Math.round(chart.scales.y.getPixelForValue(t.value)) + 0.5;
        ctx.beginPath();
        ctx.moveTo(opts.tickX - 3, py);
        ctx.lineTo(opts.tickX, py);
        ctx.stroke();
        squeezed(ctx, t.lab, opts.tickX - 4, py, 0.86);
      });
    }

    // correlation text
    ctx.font = '11.8px ' + FONT;
    ctx.fillStyle = '#ff0000';
    ctx.textAlign = 'right';
    ctx.textBaseline = 'alphabetic';
    squeezed(ctx, opts.lines[0], a.right - 2, a.top + 14.5, 0.81);
    squeezed(ctx, opts.lines[1], a.right - 2, a.top + 25, 0.81);
    ctx.restore();
  }
};

const gridColor = c => (c.tick && c.tick.mj) ? '#e3e3e3' : '#efefef';
const gridWidth = c => (c.tick && c.tick.mj) ? 1 : 0.6;

function makePanel(row, i) {
  const left = row.left0 + i * row.pitch;
  const first = i === 0;
  const pad = 12;
  const boxLeft = first ? 0 : left - pad;
  const boxW = (first ? left : pad) + row.w + pad;
  const box = addDiv('box', { left: boxLeft + 'px', top: row.top + 'px', width: boxW + 'px', height: (row.h + 22) + 'px' });
  const cv = document.createElement('canvas');
  box.appendChild(cv);

  // header strip
  addDiv('strip', { left: left + 'px', top: row.headTop + 'px', width: row.w + 'px', height: row.headH + 'px' },
    '<span class="hs">' + panelNames[i] + '</span>');

  const [xMin, xMax] = row.xRanges[i];
  const xt = tickList(row.xTicks[i], xMin, xMax);
  const yt = tickList(row.yTicks, row.yMin, row.yMax);
  const fit = row.fits[i];
  const toXY = (xs, ys) => xs.map((x, k) => ({ x, y: ys[k] }));

  new Chart(cv, {
    type: 'scatter',
    data: {
      datasets: [
        { data: row.pts[i].map(([x, y]) => ({ x, y })), backgroundColor: '#000', borderWidth: 0,
          pointRadius: 1.3, pointHoverRadius: 1.3, order: 3 },
        { type: 'line', data: toXY(fit.x, fit.hi), fill: '+1', backgroundColor: 'rgba(153,153,153,0.45)',
          borderWidth: 0, pointRadius: 0, cubicInterpolationMode: 'monotone', order: 2 },
        { type: 'line', data: toXY(fit.x, fit.lo), fill: false, borderWidth: 0, pointRadius: 0,
          cubicInterpolationMode: 'monotone', order: 2 },
        { type: 'line', data: toXY(fit.x, fit.y), fill: false, borderColor: '#3366ff', borderWidth: 2,
          pointRadius: 0, cubicInterpolationMode: 'monotone', order: 1 }
      ]
    },
    options: {
      responsive: true,
      maintainAspectRatio: false,
      animation: false,
      events: [],
      layout: { padding: { left: first ? 0 : pad, right: pad, top: 0, bottom: 0 } },
      plugins: {
        legend: { display: false },
        tooltip: { enabled: false },
        panelDecor: { lines: row.stats[i], tickX: first ? row.stripX : 0, xTicks: xt, yTicks: yt }
      },
      scales: {
        x: {
          type: 'linear', min: xMin, max: xMax, bounds: 'data',
          afterBuildTicks: s => { s.ticks = xt.map(t => ({ ...t })); },
          afterFit: s => { s.height = 22; s.paddingLeft = 0; s.paddingRight = 0; },
          border: { display: false },
          grid: { color: gridColor, lineWidth: gridWidth, drawTicks: true, tickLength: 3,
                  tickColor: c => (c.tick && c.tick.mj) ? '#333' : 'rgba(0,0,0,0)' },
          ticks: { display: false, autoSkip: false, maxRotation: 0 }
        },
        y: {
          type: 'linear', min: row.yMin, max: row.yMax, bounds: 'data',
          afterBuildTicks: s => { s.ticks = yt.map(t => ({ ...t })); },
          afterFit: s => { s.width = first ? left : 0; s.paddingTop = 0; s.paddingBottom = 0; },
          border: { display: false },
          grid: { color: gridColor, lineWidth: gridWidth, drawTicks: false },
          ticks: { display: false, autoSkip: false }
        }
      }
    },
    plugins: [panelDecor]
  });
}

rows.forEach((row, r) => {
  for (let i = 0; i < panelNames.length; i++) makePanel(row, i);
  // row facet strip on the left
  addDiv('strip', { left: row.stripX + 'px', top: row.top + 'px', width: (row.left0 - row.stripX + 1) + 'px', height: (row.h + 1) + 'px' },
    '<span class="vtext">' + row.tag + '</span>');
  // y title
  addDiv('lbl', { left: (6 - 120) + 'px', top: (row.titleY - 7) + 'px', width: '240px', height: '14px', lineHeight: '14px',
    textAlign: 'center', fontSize: '11.8px', transform: 'rotate(-90deg) scaleY(0.82)' }, 'SMOC1 Expression Level (log2 TPM)');
  // x title
  addDiv('lbl', { left: (r === 0 ? 549.5 : 553) - 60 + 'px', top: (r === 0 ? 233 : 498) + 'px', width: '120px',
    textAlign: 'center', fontSize: '12.2px', transform: 'scaleX(0.8)' }, 'Infiltration Level');
});

addDiv('lbl', { left: '5px', top: '4.5px', fontSize: '20px', fontWeight: 'bold', transform: 'scaleX(0.85)', transformOrigin: 'left top' }, 'A');
addDiv('lbl', { left: '3px', top: '272px', fontSize: '21px', fontWeight: 'bold', transform: 'scaleX(0.85)', transformOrigin: 'left top' }, 'B');
</script>
</body>
</html>
